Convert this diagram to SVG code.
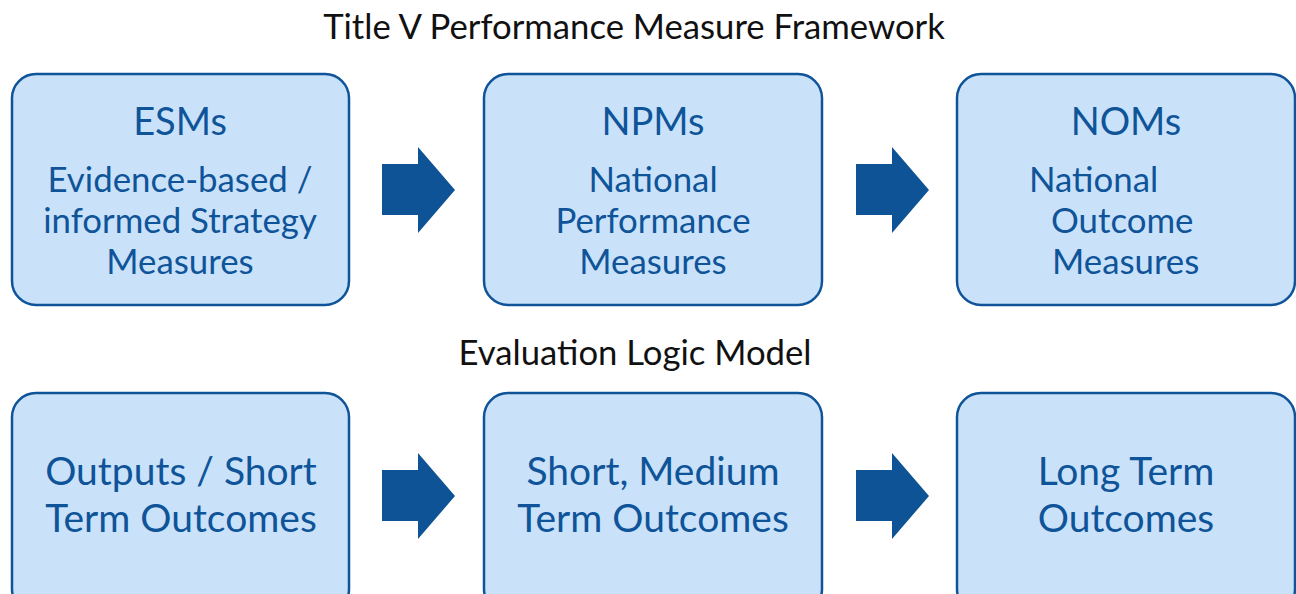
<svg xmlns="http://www.w3.org/2000/svg" width="1296" height="594" viewBox="0 0 1296 594">
<style>
.box{fill:#c9e2f9;stroke:#0f5499;stroke-width:2.5}
.t{font-family:Lato,"Open Sans","Liberation Sans",sans-serif;fill:#0f5499;text-anchor:middle}
.s{text-anchor:start}
.h{font-family:Lato,"Open Sans","Liberation Sans",sans-serif;fill:#111;text-anchor:middle;font-size:34.7px}
.arr{fill:#0d5395}
</style>
<rect width="1296" height="594" fill="#fff"/>
<text class="h" x="634" y="39">Title V Performance Measure Framework</text>
<text class="h" x="635" y="365">Evaluation Logic Model</text>
<g id="esm">
<rect class="box" x="12" y="74" width="337" height="231" rx="24"/>
<text class="t" x="180" y="135" font-size="38">ESMs</text>
<text class="t" x="180" y="192" font-size="34.8">Evidence-based /</text>
<text class="t" x="180" y="233" font-size="34.8">informed Strategy</text>
<text class="t" x="180" y="274" font-size="34.8">Measures</text>
</g>
<g id="npm">
<rect class="box" x="484" y="74" width="338" height="231" rx="24"/>
<text class="t" x="653" y="135" font-size="38">NPMs</text>
<text class="t" x="653" y="192" font-size="34.8">National</text>
<text class="t" x="653" y="233" font-size="34.8">Performance</text>
<text class="t" x="653" y="274" font-size="34.8">Measures</text>
</g>
<g id="nom">
<rect class="box" x="957" y="74" width="338" height="231" rx="24"/>
<text class="t" x="1126" y="135" font-size="38">NOMs</text>
<text class="t s" x="1029" y="192" font-size="34.8">National</text>
<text class="t s" x="1051" y="233" font-size="34.8">Outcome</text>
<text class="t s" x="1052" y="274" font-size="34.8">Measures</text>
</g>
<g id="out">
<rect class="box" x="12" y="393" width="337" height="220" rx="24"/>
<text class="t" x="181" y="485" font-size="39">Outputs / Short</text>
<text class="t" x="181" y="532" font-size="39">Term Outcomes</text>
</g>
<g id="smt">
<rect class="box" x="484" y="393" width="338" height="220" rx="24"/>
<text class="t" x="653" y="485" font-size="39">Short, Medium</text>
<text class="t" x="653" y="532" font-size="39">Term Outcomes</text>
</g>
<g id="lto">
<rect class="box" x="957" y="393" width="338" height="220" rx="24"/>
<text class="t" x="1126" y="485" font-size="39">Long Term</text>
<text class="t" x="1126" y="532" font-size="39">Outcomes</text>
</g>
<g id="connectors">
<polygon class="arr" points="382,164 418,164 418,147 455,190 418,233 418,215 382,215"/>
<polygon class="arr" points="856,164 892,164 892,147 929,190 892,233 892,215 856,215"/>
<polygon class="arr" points="382,470 418,470 418,453 455,496 418,539 418,521 382,521"/>
<polygon class="arr" points="856,470 892,470 892,453 929,496 892,539 892,521 856,521"/>
</g>
</svg>
